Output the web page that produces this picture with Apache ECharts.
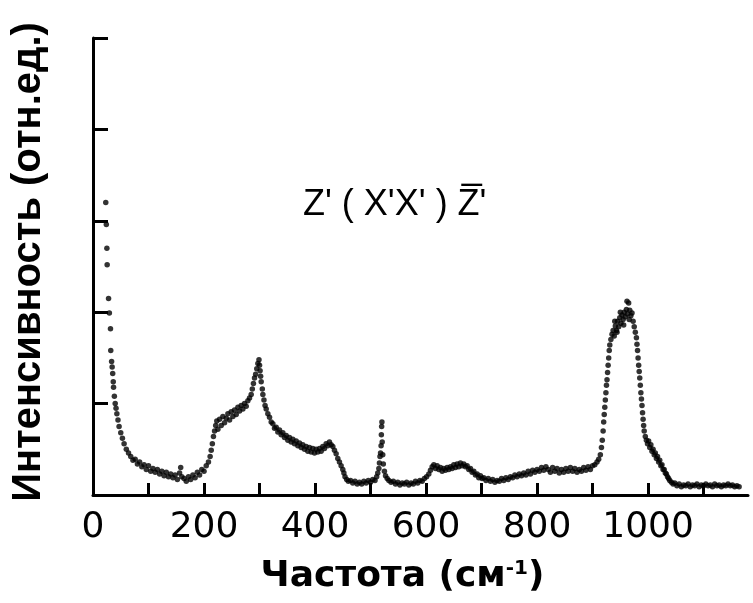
<!DOCTYPE html>
<html><head><meta charset="utf-8">
<script src="https://cdn.jsdelivr.net/npm/echarts@6/dist/echarts.min.js"></script>
<style>html,body{margin:0;padding:0;background:#fff}#c{width:753px;height:603px}</style>
</head><body><div id="c"></div>
<script>
// Raman spectrum: [frequency cm-1, intensity (arb. units)]
const laserTail = [[23,32.0],[24,29.6],[25,27.0],[25.5,25.2],[28,21.5],[29.5,19.9],[31.5,18.2],[32,15.8],[33.5,14.6],[34.5,14.0],[35.5,13.3],[36.5,12.4],[37,11.8],[38.5,10.8],[40,10.0],[41.5,9.5],[43,8.9],[45,8.2],[47,7.5],[50,6.8],[53,6.2],[56,5.6],[60,5.0],[64,4.6],[68,4.2],[72,3.8]];
const lowBand = [[76,3.9],[80,3.4],[84,3.6],[88,3.1],[92,3.3],[96,2.8],[100,3.2],[104,2.6],[108,2.9],[112,2.5],[116,2.8],[120,2.3],[124,2.6],[128,2.1],[132,2.5],[136,2.0],[140,2.3],[144,1.9],[148,2.2],[152,1.7],[156,2.4],[158,3.0],[160,2.0],[164,1.8],[168,1.5],[172,2.0],[176,1.7],[180,2.2],[184,1.9],[188,2.5],[192,2.2],[196,2.8],[200,2.6],[204,3.2],[208,3.6],[211,4.2],[213,4.9],[215,5.6],[217,6.4],[219,7.0],[221,7.6],[223,8.1]];
const band300 = [[225,7.2],[228,8.3],[231,7.6],[234,8.6],[237,7.9],[240,8.4],[243,8.9],[246,8.2],[249,9.1],[252,8.6],[255,9.3],[258,8.8],[261,9.6],[264,9.2],[267,9.8],[270,9.4],[273,10.0],[276,9.7],[279,10.3],[282,10.6],[285,11.0],[287,11.6],[289,12.2],[291,12.8],[293,13.2],[295,13.8],[297,14.4],[299,14.8],[300,14.2],[301,13.6],[302,13.0],[303,12.4],[305,11.6],[306,11.0],[308,10.4],[310,9.8],[312,9.4],[315,8.9],[318,8.5],[321,8.0],[324,7.8],[327,7.3],[330,7.4],[333,6.9],[336,7.1],[339,6.6],[342,6.8],[345,6.3],[348,6.5],[351,6.0],[354,6.3],[357,5.8],[360,6.1],[363,5.6],[366,5.9],[369,5.4],[372,5.7],[375,5.2],[378,5.5],[381,5.0],[384,5.3],[387,4.8],[390,5.2],[393,4.7],[396,5.1],[399,4.6],[402,5.0],[405,4.7],[408,5.1],[411,4.8],[414,5.3],[417,5.1],[420,5.6],[423,5.4],[426,5.8],[429,5.5],[432,5.3],[435,4.9],[438,4.5],[441,4.0],[444,3.6],[447,3.2],[450,2.8],[452,2.4],[454,2.0],[457,1.7],[460,1.5]];
const line520 = [[464,1.6],[468,1.3],[472,1.5],[476,1.2],[480,1.4],[484,1.2],[488,1.5],[492,1.3],[496,1.6],[500,1.4],[504,1.7],[508,1.6],[511,2.0],[513,2.4],[515,2.9],[516,3.5],[517,4.2],[518,4.6],[519,5.4],[519.5,6.6],[520,7.5],[520.5,8.0],[521,5.8],[522,4.4],[523,3.4],[525,2.6],[527,2.1],[530,1.8],[533,1.6],[537,1.4],[541,1.5],[545,1.2],[549,1.4],[553,1.1],[557,1.3],[561,1.2],[565,1.4],[569,1.1],[573,1.3],[577,1.2],[581,1.5],[585,1.3],[589,1.6],[593,1.5],[597,1.8]];
const band700 = [[601,2.0],[605,2.3],[608,2.7],[611,3.1],[614,3.3],[617,2.9],[620,3.2],[623,2.8],[626,3.0],[629,2.6],[632,2.9],[635,2.7],[638,3.0],[641,2.8],[644,3.1],[647,2.9],[650,3.3],[653,3.0],[656,3.4],[659,3.1],[662,3.5],[665,3.2],[668,3.4],[671,3.1],[674,3.2],[677,2.8],[680,2.9],[683,2.5],[686,2.6],[689,2.2],[692,2.3],[695,1.9],[698,2.1],[701,1.8],[704,1.9],[708,1.6],[712,1.8],[716,1.5],[720,1.7],[724,1.4],[728,1.6],[732,1.5],[736,1.8],[740,1.6],[744,1.9],[748,1.7],[752,2.0],[756,1.9],[760,2.2],[764,2.0],[768,2.3],[772,2.1],[776,2.4],[780,2.2],[784,2.6],[788,2.3],[792,2.7],[796,2.5],[800,2.8],[804,2.6],[808,3.0],[812,2.7],[816,3.1],[820,2.8],[824,2.5],[828,3.0],[832,2.6],[836,2.9],[840,2.4],[844,2.8],[848,2.5],[852,2.9],[856,2.6],[860,3.0],[864,2.6],[868,2.9],[872,2.5],[876,2.8],[880,2.6],[884,3.0],[888,2.7],[892,3.1],[896,2.8],[900,3.2],[904,3.3]];
const peak965 = [[908,3.6],[911,3.9],[914,4.4],[916,5.2],[917.5,6.0],[919,7.0],[920,8.0],[921,8.8],[922,9.6],[923,10.4],[924,11.2],[925,12.0],[926,12.6],[927,13.4],[928,14.2],[929,15.0],[930,15.8],[931,16.4],[933,17.0],[935,17.6],[937,18.0],[939,17.4],[940,19.0],[941,18.5],[943,18.0],[944,17.8],[945,19.0],[947,18.4],[949,19.4],[950,20.0],[951,18.8],[953,19.7],[955,19.2],[956,18.6],[957,20.0],[959,19.5],[961,20.3],[962,21.2],[963,19.8],[965,21.0],[966,19.2],[967,20.2],[969,19.6],[971,19.9],[973,19.0],[975,18.4],[977,17.8],[979,17.2],[980,16.5],[981,15.8],[982,15.0],[983,14.2],[984,13.5],[985,12.8],[986,12.0],[987,11.2],[988,10.5],[989,9.8],[990,9.0],[991,8.3],[992,7.6],[993,7.0],[995,6.4],[997,6.0],[999,5.6],[1001,5.9],[1003,5.2],[1005,5.5],[1007,4.8],[1009,5.0],[1011,4.4],[1013,4.6],[1015,4.0],[1017,4.2],[1019,3.6],[1021,3.8],[1023,3.2],[1025,3.3],[1027,2.8],[1029,2.8],[1031,2.4],[1033,2.3],[1035,2.0],[1037,1.8],[1039,1.6],[1042,1.4],[1045,1.2]];
const highTail = [[1048,1.3],[1052,1.0],[1056,1.2],[1060,0.9],[1064,1.1],[1068,1.0],[1072,1.2],[1076,0.9],[1080,1.1],[1084,1.0],[1088,1.2],[1092,0.9],[1096,1.1],[1100,1.0],[1104,1.2],[1108,1.0],[1112,1.1],[1116,0.9],[1120,1.2],[1124,1.0],[1128,1.1],[1132,0.9],[1136,1.1],[1140,1.0],[1144,1.2],[1148,1.0],[1152,1.1],[1156,0.9],[1160,1.0],[1164,0.9]];

const xTickValues = [0,100,200,300,400,500,600,700,800,900,1000,1100];
const xLabelValues = [0,200,400,600,800,1000];
const yTickValues = [0,10,20,30,40,50];
const chartTitle = "Z' ( X'X' ) Z\u0305'";
const xName = "Частота (см{sup|-1})";
const yName = "Интенсивность (отн.ед.)";

const spectrum = [].concat(laserTail, lowBand, band300, line520, band700, peak965, highTail);

const chart = echarts.init(document.getElementById('c'), null, {renderer:'canvas'});
const ink = '#000';
chart.setOption({
  animation:false,
  backgroundColor:'#fff',
  title:{text:chartTitle, left:298, top:182, textStyle:{fontFamily:'Liberation Sans', fontSize:36, fontWeight:'normal', color:ink}},
  grid:{left:93, right:5, top:38, bottom:108, containLabel:false, outerBoundsMode:'none'},
  xAxis:{
    type:'value', min:0, max:1180,
    axisLine:{lineStyle:{color:ink, width:3}},
    axisTick:{inside:true, length:12, lineStyle:{color:ink, width:3}, customValues:xTickValues},
    axisLabel:{customValues:xLabelValues, margin:15, fontFamily:'DejaVu Sans', fontSize:36, color:ink,
      formatter:function(v){return String(v);}},
    splitLine:{show:false},
    name:xName, nameLocation:'middle', nameGap:64,
    nameTextStyle:{fontFamily:'DejaVu Sans', fontSize:36, fontWeight:'bold', color:ink, padding:[0,36,0,0],
      rich:{sup:{fontFamily:'DejaVu Sans', fontSize:20, fontWeight:'bold', color:ink, verticalAlign:'top', padding:[0,0,14,0]}}}
  },
  yAxis:{
    type:'value', min:0, max:50,
    axisLine:{show:true, lineStyle:{color:ink, width:3}},
    axisTick:{show:true, inside:true, length:15, lineStyle:{color:ink, width:3}, customValues:yTickValues},
    axisLabel:{show:false},
    splitLine:{show:false},
    name:yName, nameLocation:'middle', nameGap:44, nameRotate:90,
    nameTextStyle:{fontFamily:'Liberation Sans', fontSize:40, fontWeight:'bold', color:ink, padding:[0,0,0,9]}
  },
  series:[{
    type:'scatter', data:spectrum, symbol:'circle', symbolSize:5.5,
    itemStyle:{color:ink}
  }]
});
</script>
</body></html>
